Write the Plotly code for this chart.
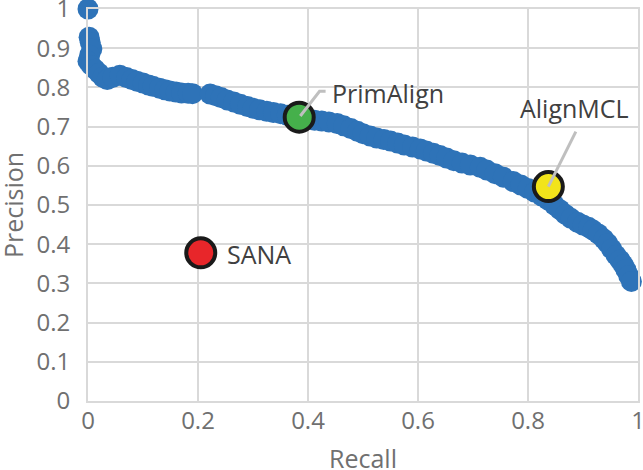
import plotly.graph_objects as go

# Precision-recall curve
curve_recall = [0.0, 0.002, 0.004, 0.007, 0.003, 0.0, 0.006, 0.013, 0.02, 0.027, 0.035,
                0.045, 0.058, 0.07, 0.08, 0.089, 0.1, 0.11, 0.118, 0.13, 0.14, 0.149,
                0.16, 0.17, 0.182, 0.19,
                0.222, 0.232, 0.242, 0.253, 0.265, 0.277, 0.29, 0.3, 0.312, 0.325,
                0.337, 0.35, 0.362, 0.375, 0.388, 0.4, 0.412, 0.425, 0.438, 0.453,
                0.465, 0.478, 0.49, 0.5, 0.513, 0.525, 0.538, 0.55, 0.563, 0.575,
                0.59, 0.604, 0.615, 0.628, 0.64, 0.652, 0.665, 0.68, 0.695, 0.713,
                0.725, 0.74, 0.755, 0.773, 0.787, 0.8, 0.812, 0.825, 0.836, 0.848,
                0.858, 0.868, 0.878, 0.89, 0.9, 0.91, 0.918, 0.928, 0.938, 0.945,
                0.952, 0.96, 0.967, 0.973, 0.978, 0.983, 0.988]
curve_precision = [1.0, 0.928, 0.915, 0.898, 0.882, 0.867, 0.856, 0.846, 0.836, 0.826, 0.82,
                   0.826, 0.831, 0.825, 0.82, 0.816, 0.811, 0.806, 0.803, 0.798, 0.794, 0.791,
                   0.788, 0.786, 0.785, 0.784,
                   0.783, 0.779, 0.774, 0.768, 0.763, 0.757, 0.751, 0.747, 0.743, 0.739,
                   0.736, 0.733, 0.729, 0.725, 0.721, 0.718, 0.716, 0.714, 0.712, 0.708,
                   0.702, 0.695, 0.688, 0.682, 0.676, 0.671, 0.667, 0.663, 0.658, 0.653,
                   0.648, 0.643, 0.638, 0.632, 0.626, 0.62, 0.613, 0.607, 0.602, 0.596,
                   0.589, 0.58, 0.571, 0.56, 0.551, 0.542, 0.533, 0.523, 0.513, 0.5,
                   0.488, 0.476, 0.466, 0.456, 0.449, 0.443, 0.436, 0.426, 0.413, 0.402,
                   0.388, 0.372, 0.36, 0.348, 0.335, 0.32, 0.305]

methods = ["SANA", "PrimAlign", "AlignMCL"]
method_recall = [0.205, 0.384, 0.837]
method_precision = [0.378, 0.724, 0.547]
method_colors = ["#E8262A", "#45B04B", "#F2E41B"]

x_ticks = [0, 0.2, 0.4, 0.6, 0.8, 1]
y_ticks = [0, 0.1, 0.2, 0.3, 0.4, 0.5, 0.6, 0.7, 0.8, 0.9, 1]

FONT = "Open Sans"
TICK_COLOR = "#707070"
LABEL_COLOR = "#404040"
GRID = "#D9D9D9"

fig = go.Figure()
fig.add_trace(go.Scatter(
    x=curve_recall, y=curve_precision, mode="markers",
    marker=dict(size=21, color="#2E73B8", line=dict(width=0)),
    cliponaxis=False, showlegend=False, hoverinfo="skip"))

fig.add_trace(go.Scatter(
    x=method_recall, y=method_precision, mode="markers",
    marker=dict(size=29, color=method_colors, line=dict(width=4, color="#1A1A1A")),
    cliponaxis=False, showlegend=False, hoverinfo="skip"))

# leader lines (data offsets relative to method points)
pa_x, pa_y = method_recall[1], method_precision[1]
am_x, am_y = method_recall[2], method_precision[2]
fig.add_shape(type="path", layer="above",
              path=f"M {pa_x+0.002},{pa_y+0.003} L {pa_x+0.037},{pa_y+0.066} L {pa_x+0.048},{pa_y+0.066}",
              line=dict(color="#BFBFBF", width=3))
fig.add_shape(type="line", layer="above",
              x0=am_x, y0=am_y, x1=am_x+0.05, y1=am_y+0.14,
              line=dict(color="#BFBFBF", width=3))

fig.add_annotation(x=method_recall[0] + 0.044, y=method_precision[0] - 0.004,
                   text=methods[0], showarrow=False, xanchor="left", yanchor="middle",
                   font=dict(family=FONT, size=25, color=LABEL_COLOR))
fig.add_annotation(x=pa_x + 0.056, y=pa_y + 0.062,
                   text=methods[1], showarrow=False, xanchor="left", yanchor="middle",
                   font=dict(family=FONT, size=25, color=LABEL_COLOR))
fig.add_annotation(x=am_x + 0.048, y=am_y + 0.2,
                   text=methods[2], showarrow=False, xanchor="center", yanchor="middle",
                   font=dict(family=FONT, size=25, color=LABEL_COLOR))

# axis titles
fig.add_annotation(x=0.5, y=0, xref="paper", yref="paper", yshift=-57,
                   text="Recall", showarrow=False, xanchor="center", yanchor="middle",
                   font=dict(family=FONT, size=25, color=TICK_COLOR))
fig.add_annotation(x=0, y=0.5, xref="paper", yref="paper", xshift=-75,
                   text="Precision", showarrow=False, textangle=-90,
                   xanchor="center", yanchor="middle",
                   font=dict(family=FONT, size=25, color=TICK_COLOR))

fig.update_layout(
    width=643, height=470,
    margin=dict(l=88, r=5, t=9, b=69),
    paper_bgcolor="white", plot_bgcolor="white",
    font=dict(family=FONT, color=TICK_COLOR),
    xaxis=dict(range=[0, 1], tickvals=x_ticks, ticktext=[f"{v:g}" for v in x_ticks],
               showgrid=True, gridcolor=GRID, gridwidth=2,
               showline=True, linecolor=GRID, linewidth=2, mirror=True,
               zeroline=False, ticks="", ticklabelstandoff=-3, automargin=False,
               ticklabeloverflow="allow",
               tickfont=dict(family=FONT, size=24, color=TICK_COLOR)),
    yaxis=dict(range=[0, 1], tickvals=y_ticks, ticktext=[f"{v:g}" for v in y_ticks],
               showgrid=True, gridcolor=GRID, gridwidth=2,
               showline=True, linecolor=GRID, linewidth=2, mirror=True,
               zeroline=False, ticks="", ticklabelstandoff=11, automargin=False,
               ticklabeloverflow="allow",
               tickfont=dict(family=FONT, size=24, color=TICK_COLOR)),
)

fig.write_html("out.html", config={"displayModeBar": False},
               post_script="document.body.style.margin='0px';")
